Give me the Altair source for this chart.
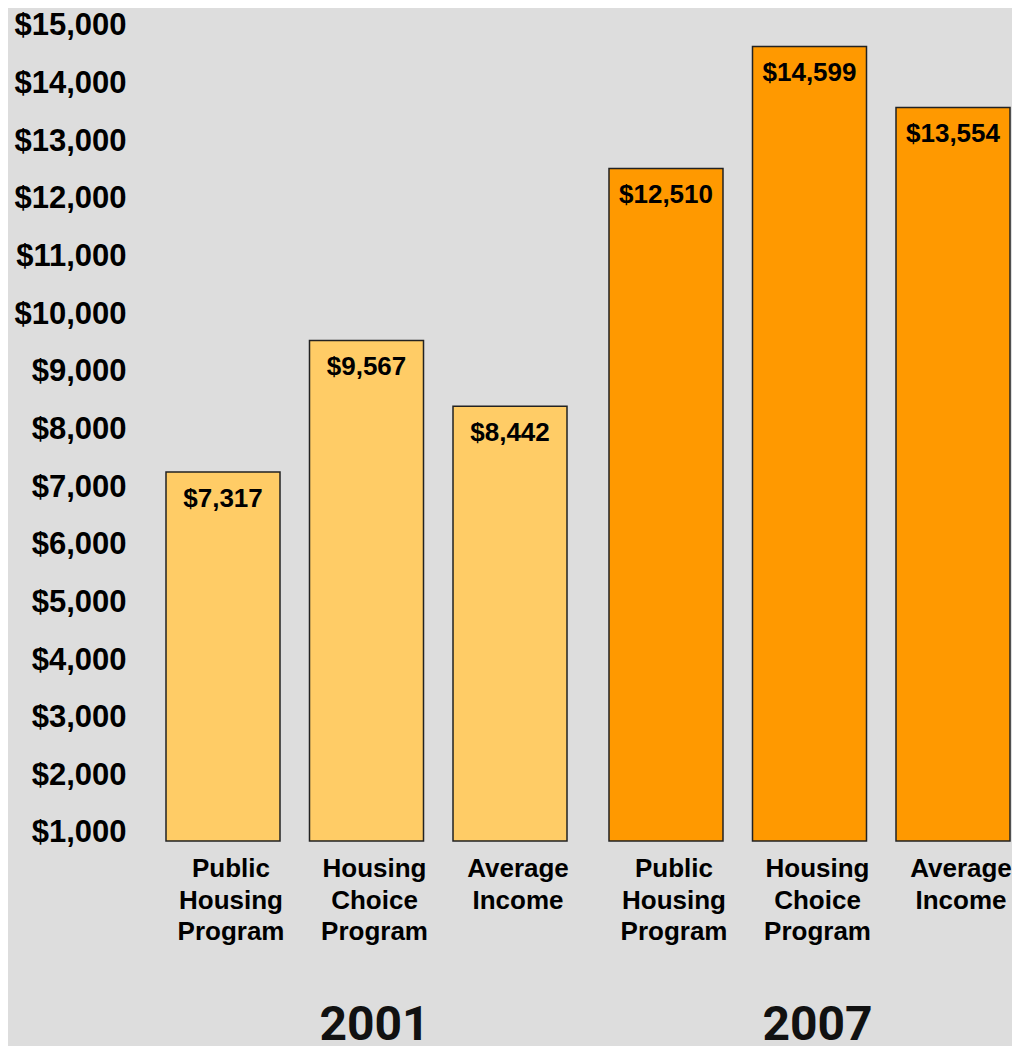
import altair as alt
import pandas as pd

years = ["2001", "2001", "2001", "2007", "2007", "2007"]
categories = ["Public Housing Program", "Housing Choice Program", "Average Income",
              "Public Housing Program", "Housing Choice Program", "Average Income"]
label_lines = ["Public\nHousing\nProgram", "Housing\nChoice\nProgram", "Average\nIncome",
               "Public\nHousing\nProgram", "Housing\nChoice\nProgram", "Average\nIncome"]
values = [7317, 9567, 8442, 12510, 14599, 13554]
value_labels = ["$7,317", "$9,567", "$8,442", "$12,510", "$14,599", "$13,554"]
tick_values = [1000, 2000, 3000, 4000, 5000, 6000, 7000, 8000,
               9000, 10000, 11000, 12000, 13000, 14000, 15000]
year_order = ["2001", "2007"]
cat_order = ["Public Housing Program", "Housing Choice Program", "Average Income"]
year_colors = ["#FFCC66", "#FF9900"]

df = pd.DataFrame({
    "year": years,
    "category": categories,
    "lines": label_lines,
    "value": values,
    "vlabel": value_labels,
})
ticks_df = pd.DataFrame({"tick": tick_values})

W, H = 860, 818

x_enc = alt.X(
    "year:N",
    sort=year_order,
    scale=alt.Scale(paddingInner=0.0948, paddingOuter=0.01806, align=1),
    axis=alt.Axis(
        title=None, domain=False, ticks=False,
        labelFont="Roboto", labelFontWeight="bold", labelFontSize=48,
        labelColor="#111111", labelBaseline="alphabetic", labelPadding=198,
        labelOffset=8, labelAngle=0,
    ),
)
xo_enc = alt.XOffset("category:N", sort=cat_order,
                     scale=alt.Scale(paddingInner=0.2056, paddingOuter=0))

yscale = alt.Scale(domain=[1000, 15000], nice=False, zero=False)

base = alt.Chart(df).encode(x=x_enc, xOffset=xo_enc)

bars = base.mark_bar(stroke="#222222", strokeWidth=1.5).encode(
    y=alt.Y("value:Q", scale=yscale, axis=None),
    y2=alt.datum(1000),
    color=alt.Color("year:N", scale=alt.Scale(domain=year_order, range=year_colors), legend=None),
)

vtext = base.mark_text(
    font="Liberation Sans", fontWeight="bold", fontSize=26, color="#000000",
    baseline="middle", align="center", dy=27,
).encode(
    y=alt.Y("value:Q", scale=yscale, axis=None),
    text="vlabel:N",
)

ctext = base.mark_text(
    font="Liberation Sans", fontWeight="bold", fontSize=26, color="#000000",
    baseline="alphabetic", align="center", lineBreak="\n", lineHeight=31.5, dx=8,
).encode(
    y=alt.value(854),
    text="lines:N",
)

inner = alt.layer(bars, vtext, ctext)

axis_layer = alt.Chart(ticks_df).mark_tick(opacity=0).encode(
    y=alt.Y(
        "tick:Q",
        scale=alt.Scale(domain=[861.2, 15052], nice=False, zero=False),
        axis=alt.Axis(
            orient="left", title=None, values=tick_values, format="$,.0f",
            domain=False, ticks=False, grid=False, labelPadding=24,
            labelFont="Liberation Sans", labelFontWeight="bold", labelFontSize=31,
            labelColor="#000000",
        ),
    ),
)

chart = alt.layer(inner, axis_layer).resolve_scale(y="independent").properties(
    width=W, height=H,
    background="#DDDDDD",
    padding={"left": 142, "top": 15, "right": 2, "bottom": 205},
    autosize=alt.AutoSizeParams(type="none"),
).configure_view(stroke=None)

chart.save("out.html", embed_options={"renderer": "svg", "actions": False})
